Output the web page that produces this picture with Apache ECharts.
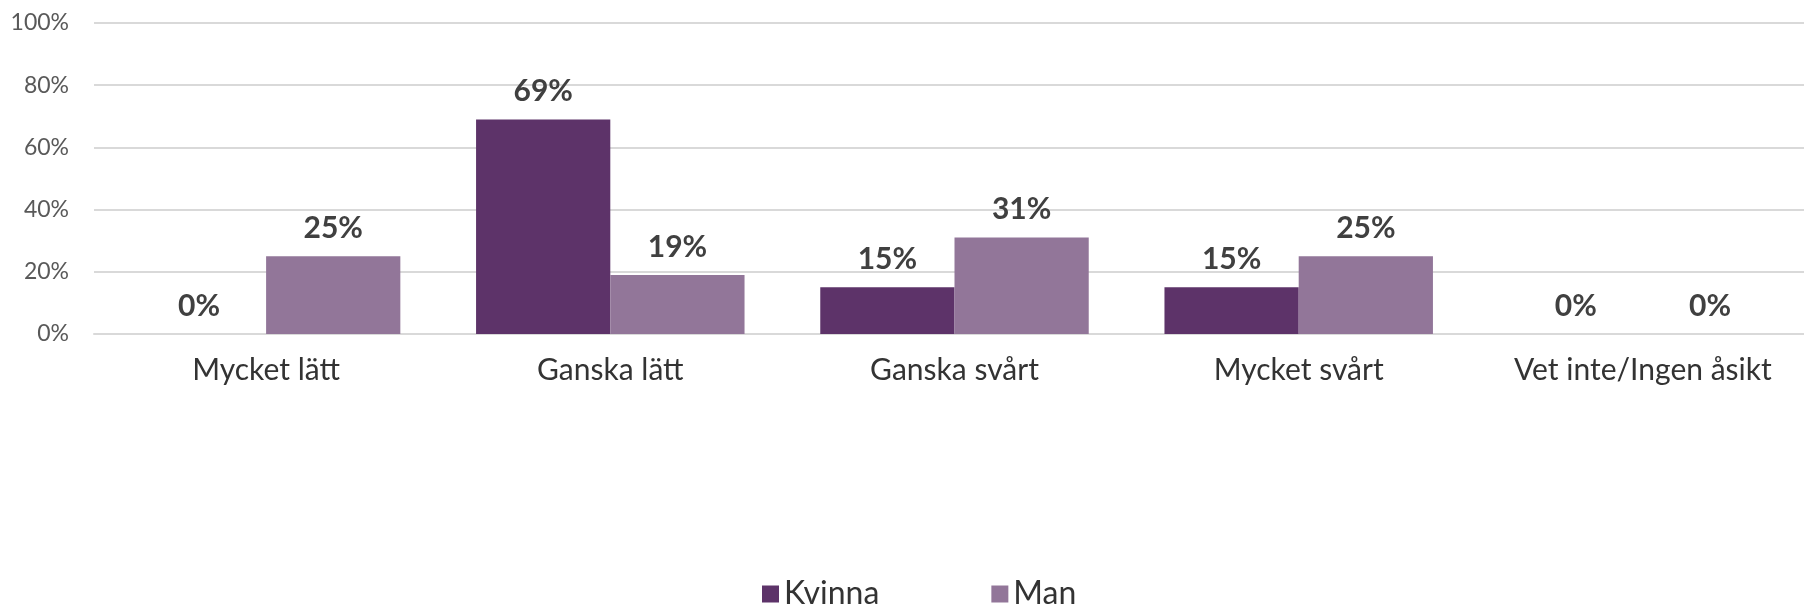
<!DOCTYPE html>
<html>
<head>
<meta charset="utf-8">
<script src="https://cdn.jsdelivr.net/npm/echarts@6/dist/echarts.min.js"></script>
<style>
  html, body { margin: 0; padding: 0; background: #fff; }
  #chart { width: 1804px; height: 605px; }
</style>
</head>
<body>
<div id="chart"></div>
<script>
// kategorier och värden (procent)
var categories = ["Mycket lätt", "Ganska lätt", "Ganska svårt", "Mycket svårt", "Vet inte/Ingen åsikt"];
var kvinna = [0, 69, 15, 15, 0];
var man = [25, 19, 31, 25, 0];
var yTicks = [0, 20, 40, 60, 80, 100];

var fontName = "Lato";

var labelStyle = {
  show: true,
  position: "top",
  distance: 13,
  formatter: "{c}%",
  color: "#404040",
  fontFamily: fontName,
  fontWeight: "bold",
  fontSize: 30
};

var myChart = echarts.init(document.getElementById("chart"));
myChart.setOption({
  animation: false,
  grid: {
    left: 94,
    width: 1721,
    top: 23,
    bottom: 271,
    outerBoundsMode: "none"
  },
  legend: {
    bottom: -10,
    left: 757,
    itemWidth: 17,
    itemHeight: 17,
    itemGap: 112,
    icon: "rect",
    textStyle: {
      color: "#333",
      fontFamily: fontName,
      fontSize: 32
    },
    data: ["Kvinna", "Man"]
  },
  xAxis: {
    type: "category",
    data: categories,
    axisLine: { lineStyle: { color: "#d9d9d9", width: 2 } },
    axisTick: { show: false },
    axisLabel: {
      margin: 21,
      color: "#333",
      fontFamily: fontName,
      fontSize: 30
    }
  },
  yAxis: {
    type: "value",
    min: yTicks[0],
    max: yTicks[yTicks.length - 1],
    interval: 20,
    axisLine: { show: false },
    axisTick: { show: false },
    splitLine: { lineStyle: { color: "#d9d9d9", width: 2 } },
    axisLabel: {
      margin: 25,
      color: "#595959",
      fontFamily: fontName,
      fontSize: 23,
      formatter: "{value}%"
    }
  },
  series: [
    {
      name: "Kvinna",
      type: "bar",
      data: kvinna,
      barGap: "0%",
      barCategoryGap: "22%",
      itemStyle: { color: "#5d3369" },
      label: labelStyle
    },
    {
      name: "Man",
      type: "bar",
      data: man,
      barGap: "0%",
      barCategoryGap: "22%",
      itemStyle: { color: "#927699" },
      label: labelStyle
    }
  ]
});
</script>
</body>
</html>
